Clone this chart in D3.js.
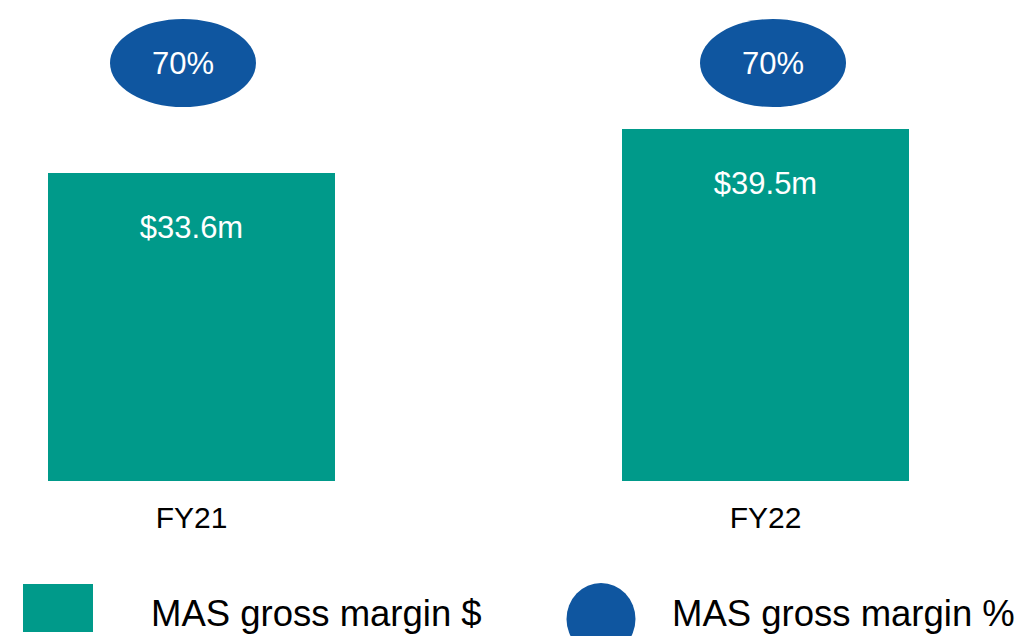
<!DOCTYPE html>
<meta charset="utf-8">
<style>
	body { margin: 0; background: #fff; }
	svg text { font-family: "Liberation Sans", Arial, sans-serif; }
	.axis path, .axis line { display: none; }
</style>
<svg width="1024" height="636"></svg>
<script src="https://d3js.org/d3.v7.min.js"></script>
<script>
	// data
	var categories = ['FY21', 'FY22']
	var marginValues = [33.6, 39.5]          // MAS gross margin $m
	var marginPct = [70, 70]                  // MAS gross margin %
	var legendLabels = ['MAS gross margin $', 'MAS gross margin %']

	var teal = '#009A8A',
		blue = '#0F56A0'

	var svg = d3.select('svg')

	var data = categories.map(function (c, i) {
		return { name: c, value: marginValues[i], pct: marginPct[i] }
	})

	var x = d3.scaleBand().domain(categories).range([48, 909]).paddingInner(0.5).paddingOuter(0)
	// the value axis is hidden and does not start at zero
	var y = d3.scaleLinear().domain([-7.7, 39.5]).range([481, 129])
	// the percentage bubbles sit slightly off the bar centres
	var xp = d3.scalePoint().domain(categories).range([183, 773])

	// bars
	svg.selectAll('.bar')
		.data(data)
		.enter()
		.append('rect')
		.attr('class', 'bar')
		.attr('x', function (d) { return x(d.name) })
		.attr('width', x.bandwidth())
		.attr('y', function (d) { return y(d.value) })
		.attr('height', function (d) { return y.range()[0] - y(d.value) })
		.attr('fill', teal)

	svg.selectAll('.barLabel')
		.data(data)
		.enter()
		.append('text')
		.attr('class', 'barLabel')
		.attr('x', function (d) { return x(d.name) + x.bandwidth() / 2 })
		.attr('y', function (d) { return y(d.value) + 65 })
		.attr('text-anchor', 'middle')
		.attr('fill', '#fff')
		.style('font-size', '31px')
		.text(function (d) { return '$' + d.value.toFixed(1) + 'm' })

	// percentage bubbles
	var bubble = svg.selectAll('.bubble')
		.data(data)
		.enter()
		.append('g')
		.attr('class', 'bubble')
		.attr('transform', function (d) { return 'translate(' + xp(d.name) + ',63)' })

	bubble.append('ellipse')
		.attr('rx', 73)
		.attr('ry', 44)
		.attr('fill', blue)

	bubble.append('text')
		.attr('y', 11)
		.attr('text-anchor', 'middle')
		.attr('fill', '#fff')
		.style('font-size', '31px')
		.text(function (d) { return d.pct + '%' })

	// category axis
	svg.append('g')
		.attr('class', 'axis')
		.attr('transform', 'translate(0,481)')
		.call(d3.axisBottom(x).tickSize(0).tickPadding(26))
		.selectAll('text')
		.attr('fill', '#000')
		.style('font-family', '"Liberation Sans", Arial, sans-serif')
		.style('font-size', '30px')

	// legend
	var legend = svg.append('g').attr('class', 'legend')
	legend.append('rect')
		.attr('x', 23).attr('y', 584)
		.attr('width', 70).attr('height', 48)
		.attr('fill', teal)
	legend.append('text')
		.attr('x', 151).attr('y', 626)
		.style('font-size', '36.5px')
		.attr('fill', '#000')
		.text(legendLabels[0])
	legend.append('ellipse')
		.attr('cx', 601).attr('cy', 619)
		.attr('rx', 34.5).attr('ry', 36)
		.attr('fill', blue)
	legend.append('text')
		.attr('x', 672).attr('y', 626)
		.style('font-size', '36.5px')
		.attr('fill', '#000')
		.text(legendLabels[1])
</script>
